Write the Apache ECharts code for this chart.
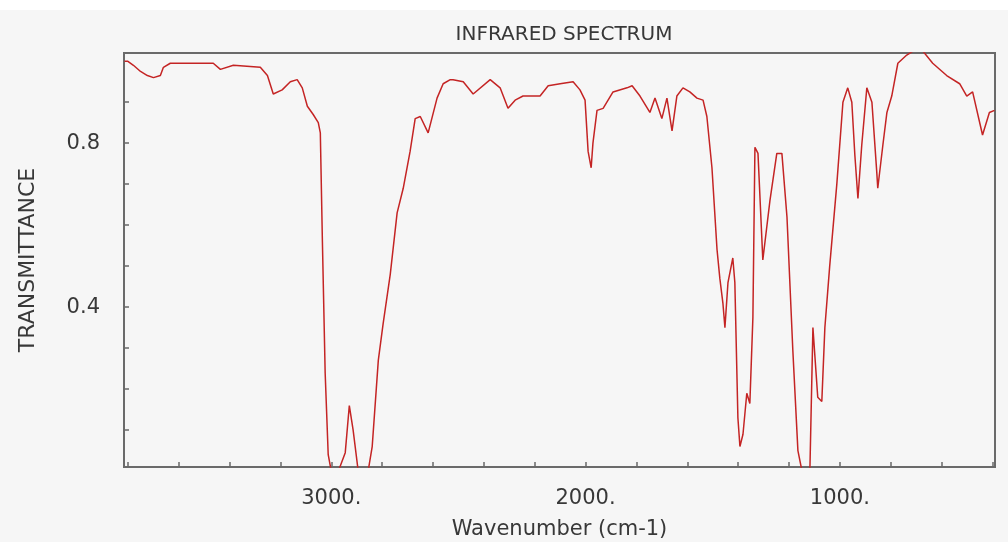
<!DOCTYPE html>
<html>
<head>
<meta charset="utf-8">
<title>Infrared spectrum</title>
<script src="https://cdn.jsdelivr.net/npm/echarts@6/dist/echarts.min.js"></script>
<style>
  html, body { margin: 0; padding: 0; background: #ffffff; }
  #irChart { width: 1008px; height: 542px; }
</style>
</head>
<body>
<div id="irChart"></div>
<script>
// wavenumber (cm-1) and transmittance
const wavenumber = [
  3813, 3801, 3778, 3750, 3723, 3699, 3672, 3660, 3633, 3566, 3464, 3436, 3385, 3279, 3251, 3228,
  3193, 3161, 3134, 3114, 3094, 3071, 3051, 3043, 3035, 3024, 3012, 3000, 2972, 2945, 2929, 2914,
  2894, 2855, 2839, 2815, 2796, 2768, 2741, 2717, 2690, 2670, 2650, 2619, 2584, 2560, 2532, 2521,
  2481, 2442, 2375, 2336, 2305, 2277, 2246, 2179, 2147, 2100, 2049, 2022, 2002, 1990, 1978, 1971,
  1955, 1931, 1892, 1837, 1817, 1786, 1747, 1727, 1700, 1680, 1660, 1641, 1617, 1590, 1562, 1538,
  1523, 1503, 1483, 1472, 1460, 1452, 1440, 1421, 1413, 1401, 1393, 1381, 1366, 1354, 1342, 1334,
  1322, 1303, 1275, 1248, 1228, 1208, 1185, 1165, 1149, 1118, 1106, 1087, 1071, 1059, 1040, 1012,
  988, 969, 953, 941, 929, 914, 894, 874, 855, 851, 831, 815, 796, 772, 737, 698,
  674, 635, 580, 529, 501, 478, 439, 412, 392
]
const transmittance = [
  1.00, 1.00, 0.99, 0.975, 0.965, 0.96, 0.965, 0.985, 0.995, 0.995, 0.995, 0.98, 0.99, 0.985, 0.965, 0.92,
  0.93, 0.95, 0.955, 0.935, 0.89, 0.87, 0.85, 0.825, 0.565, 0.24, 0.04, 0.0, 0.0, 0.045, 0.16, 0.10,
  0.0, 0.0, 0.06, 0.27, 0.36, 0.48, 0.63, 0.69, 0.78, 0.86, 0.865, 0.825, 0.91, 0.945, 0.955, 0.955,
  0.95, 0.92, 0.955, 0.935, 0.885, 0.905, 0.915, 0.915, 0.94, 0.945, 0.95, 0.93, 0.905, 0.78, 0.74, 0.80,
  0.88, 0.885, 0.925, 0.935, 0.94, 0.915, 0.875, 0.91, 0.86, 0.91, 0.83, 0.915, 0.935, 0.925, 0.91, 0.905,
  0.865, 0.74, 0.54, 0.47, 0.41, 0.35, 0.46, 0.52, 0.46, 0.13, 0.06, 0.09, 0.19, 0.165, 0.375, 0.79,
  0.775, 0.515, 0.66, 0.775, 0.775, 0.62, 0.295, 0.05, 0.0, 0.0, 0.35, 0.18, 0.17, 0.35, 0.50, 0.70,
  0.90, 0.935, 0.90, 0.77, 0.665, 0.795, 0.935, 0.90, 0.73, 0.69, 0.795, 0.875, 0.915, 0.995, 1.015, 1.03,
  1.025, 0.995, 0.965, 0.945, 0.915, 0.925, 0.82, 0.875, 0.88
]

// axis ticks and labels
const xTicks = [400, 600, 800, 1000, 1200, 1400, 1600, 1800, 2000, 2200, 2400, 2600, 2800, 3000, 3200, 3400, 3600, 3800]
const xLabels = [1000, 2000, 3000]
const yTicks = [0.1, 0.2, 0.3, 0.4, 0.5, 0.6, 0.7, 0.8, 0.9]
const yLabels = [0.4, 0.8]

const axisColor = '#6a6a6a'
const textColor = '#383838'
const fontFamily = 'DejaVu Sans'

const irChart = echarts.init(document.getElementById('irChart'))

irChart.setOption({
  backgroundColor: '#f6f6f6',
  animation: false,
  graphic: [
    {
      type: 'rect',
      left: 0,
      top: 0,
      shape: { width: 1008, height: 10 },
      style: { fill: '#ffffff' },
      silent: true
    }
  ],
  title: {
    text: 'INFRARED SPECTRUM',
    left: 559,
    top: 20,
    textAlign: 'center',
    textStyle: {
      fontFamily,
      fontSize: 20,
      fontWeight: 'normal',
      color: textColor
    }
  },
  grid: {
    left: 124,
    right: 13,
    top: 53,
    bottom: 75,
    outerBoundsMode: 'none',
    show: true,
    borderColor: axisColor,
    borderWidth: 2,
    backgroundColor: 'transparent'
  },
  xAxis: {
    type: 'value',
    inverse: true,
    min: 390,
    max: 3815,
    name: 'Wavenumber (cm-1)',
    nameLocation: 'middle',
    nameGap: 52,
    nameTextStyle: { fontFamily, fontSize: 21, color: textColor },
    axisLine: { show: true, lineStyle: { color: axisColor, width: 2 } },
    axisTick: {
      show: true,
      inside: true,
      length: 5,
      customValues: xTicks,
      lineStyle: { color: axisColor, width: 1.5 }
    },
    axisLabel: {
      customValues: xLabels,
      formatter: v => v + '.',
      margin: 21,
      fontFamily,
      fontSize: 21,
      color: textColor
    },
    splitLine: { show: false }
  },
  yAxis: {
    type: 'value',
    min: 0.01,
    max: 1.02,
    name: 'TRANSMITTANCE',
    nameLocation: 'middle',
    nameGap: 85,
    nameTextStyle: { fontFamily, fontSize: 22, color: textColor },
    axisLine: { show: true, lineStyle: { color: axisColor, width: 2 } },
    axisTick: {
      show: true,
      inside: true,
      length: 5,
      customValues: yTicks,
      lineStyle: { color: axisColor, width: 1.5 }
    },
    axisLabel: {
      customValues: yLabels,
      formatter: v => v.toFixed(1),
      margin: 24,
      fontFamily,
      fontSize: 21,
      color: textColor
    },
    splitLine: { show: false }
  },
  series: [
    {
      type: 'line',
      data: wavenumber.map((w, i) => [w, transmittance[i]]),
      showSymbol: false,
      clip: true,
      lineStyle: { color: '#c42424', width: 1.5 }
    }
  ]
})
</script>
</body>
</html>
